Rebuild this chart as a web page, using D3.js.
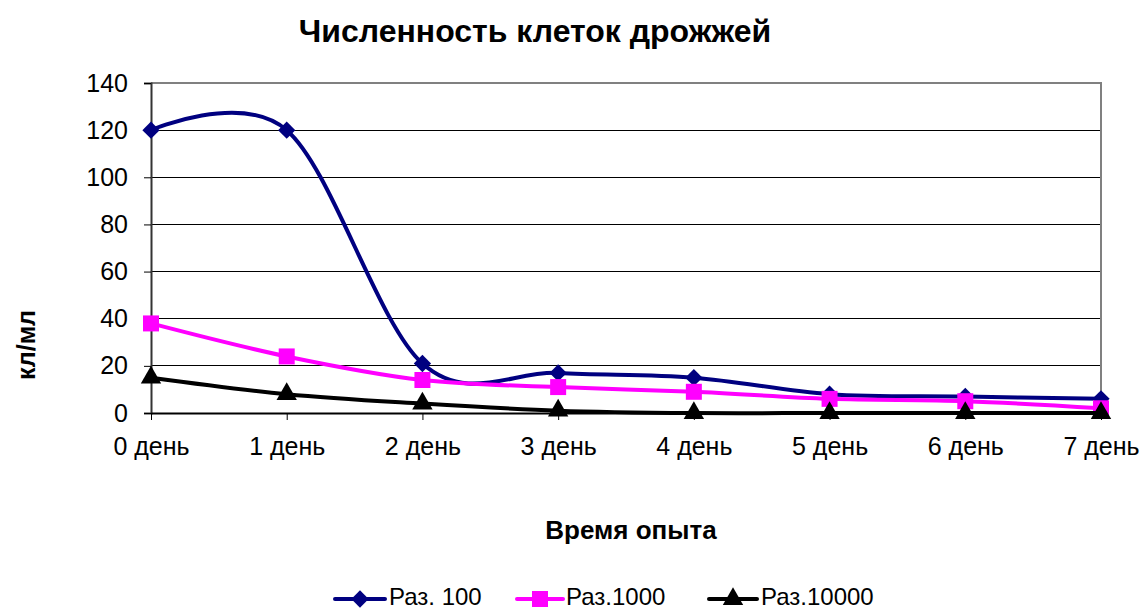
<!DOCTYPE html>
<html>
<head>
<meta charset="utf-8">
<script src="https://cdn.jsdelivr.net/npm/d3@7"></script>
<style>
  html, body { margin: 0; padding: 0; background: #fff; }
  svg { display: block; font-family: "Liberation Sans", Arial, sans-serif; }
</style>
</head>
<body>
<svg id="chart" width="1144" height="610"></svg>
<script>
// Categories (days of the experiment)
const days = ["0 день", "1 день", "2 день", "3 день", "4 день", "5 день", "6 день", "7 день"];
// Cell counts per dilution
const dil100 = [120, 120, 21, 17, 15, 8, 7, 6];
const dil1000 = [38, 24, 14, 11, 9, 6, 5, 2];
const dil10000 = [15, 8, 4, 1, 0, 0, 0, 0];
// Y tick values
const yTicks = [0, 20, 40, 60, 80, 100, 120, 140];
const seriesNames = ["Раз. 100", "Раз.1000", "Раз.10000"];

const series = [
  { name: seriesNames[0], values: dil100, color: "#000080", marker: "diamond" },
  { name: seriesNames[1], values: dil1000, color: "#FF00FF", marker: "square" },
  { name: seriesNames[2], values: dil10000, color: "#000000", marker: "triangle" }
];

const svg = d3.select("#chart");
const plot = { left: 151, right: 1101, top: 83, bottom: 413 };
const labelSize = 25;

const x = d3.scalePoint().domain(days).range([plot.left, plot.right]);
const y = d3.scaleLinear().domain([0, 140]).range([plot.bottom, plot.top]);

// Horizontal gridlines
svg.append("g")
  .selectAll("line")
  .data(yTicks.filter(d => d > 0 && d < 140))
  .join("line")
  .attr("x1", plot.left).attr("x2", plot.right)
  .attr("y1", d => y(d)).attr("y2", d => y(d))
  .attr("stroke", "#000").attr("stroke-width", 1)
  .attr("shape-rendering", "crispEdges");

// Plot area border (top and right)
svg.append("path")
  .attr("d", `M${plot.left},${y(140)}H${plot.right}V${plot.bottom}`)
  .attr("fill", "none").attr("stroke", "#808080").attr("stroke-width", 2)
  .attr("shape-rendering", "crispEdges");

// Y axis
const yAxis = svg.append("g")
  .attr("transform", `translate(${plot.left},0)`)
  .call(d3.axisLeft(y).tickValues(yTicks).tickSize(7).tickPadding(16).tickFormat(d3.format("d")));
yAxis.select(".domain").attr("stroke", "#333").attr("stroke-width", 2);
yAxis.selectAll(".tick line").attr("stroke", "#000");
yAxis.selectAll("text").attr("font-size", labelSize).attr("fill", "#000")
  .attr("font-family", "Liberation Sans, Arial, sans-serif");

// X axis
const xAxis = svg.append("g")
  .attr("transform", `translate(0,${plot.bottom})`)
  .call(d3.axisBottom(x).tickSize(7).tickPadding(17).tickSizeOuter(0));
xAxis.select(".domain").attr("stroke", "#000").attr("stroke-width", 2);
xAxis.selectAll(".tick line").attr("stroke", "#000");
xAxis.selectAll("text").attr("font-size", labelSize).attr("fill", "#000")
  .attr("font-family", "Liberation Sans, Arial, sans-serif");

// Markers
const markerPath = {
  diamond: d3.symbol().type(d3.symbolDiamond2).size(190),
  square: d3.symbol().type(d3.symbolSquare).size(256),
  triangle: d3.symbol().type(d3.symbolTriangle).size(180)
};
function drawMarker(g, type, cx, cy, color) {
  g.append("path")
    .attr("d", markerPath[type]())
    .attr("transform", `translate(${cx},${cy})`)
    .attr("fill", color);
}

const line = d3.line()
  .x((d, i) => x(days[i]))
  .y(d => y(d))
  .curve(d3.curveCardinal.tension(0));

series.forEach(s => {
  const g = svg.append("g");
  g.append("path")
    .attr("d", line(s.values))
    .attr("fill", "none")
    .attr("stroke", s.color)
    .attr("stroke-width", 4)
    .attr("stroke-linejoin", "round");
  s.values.forEach((v, i) => drawMarker(g, s.marker, x(days[i]), y(v), s.color));
});

// Title
svg.append("text")
  .attr("x", 535).attr("y", 42)
  .attr("text-anchor", "middle")
  .attr("font-size", 32).attr("font-weight", "bold")
  .text("Численность клеток дрожжей");

// Axis titles
svg.append("text")
  .attr("x", 631).attr("y", 539)
  .attr("text-anchor", "middle")
  .attr("font-size", 26).attr("font-weight", "bold")
  .text("Время опыта");

svg.append("text")
  .attr("transform", "translate(35,345) rotate(-90)")
  .attr("text-anchor", "middle")
  .attr("font-size", 25).attr("font-weight", "bold")
  .text("кл/мл");

// Legend
const legendItems = [
  { x0: 335, x1: 385, tx: 389 },
  { x0: 517, x1: 563, tx: 566 },
  { x0: 709, x1: 757, tx: 761 }
];
const legend = svg.append("g");
series.forEach((s, i) => {
  const li = legendItems[i];
  const ly = 599;
  legend.append("line")
    .attr("x1", li.x0).attr("x2", li.x1).attr("y1", ly).attr("y2", ly)
    .attr("stroke", s.color).attr("stroke-width", 4).attr("stroke-linecap", "round");
  drawMarker(legend, s.marker, (li.x0 + li.x1) / 2, ly, s.color);
  legend.append("text")
    .attr("x", li.tx).attr("y", 605)
    .attr("font-size", 24)
    .text(s.name);
});
</script>
</body>
</html>
